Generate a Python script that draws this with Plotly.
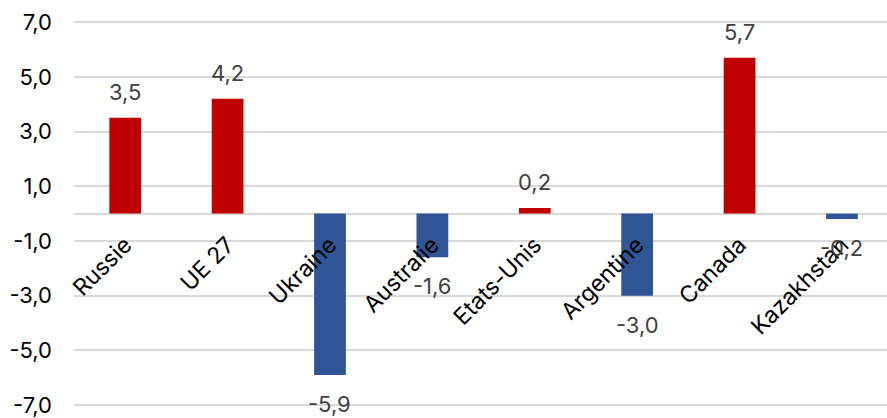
import plotly.graph_objects as go

# Variation by producer (values in the chart's unit)
countries = ["Russie", "UE 27", "Ukraine", "Australie", "Etats-Unis",
             "Argentine", "Canada", "Kazakhstan"]
values = [3.5, 4.2, -5.9, -1.6, 0.2, -3.0, 5.7, -0.2]
y_ticks = [-7, -5, -3, -1, 1, 3, 5, 7]

RED = "#C00000"
BLUE = "#2F5597"
FONT = "Inter"


def fr(v):
    return f"{v:.1f}".replace(".", ",")


colors = [RED if v >= 0 else BLUE for v in values]

fig = go.Figure(go.Bar(
    x=countries,
    y=values,
    marker=dict(color=colors, line=dict(width=0)),
    hoverinfo="x+y",
))

# value labels above positive bars, below negative ones
for c, v in zip(countries, values):
    fig.add_annotation(
        x=c, y=v, text=fr(v), showarrow=False,
        xanchor="center", yanchor="middle",
        yshift=26 if v >= 0 else -29,
        font=dict(family=FONT, size=22, color="#404040"),
    )

fig.update_layout(
    width=887, height=418,
    margin=dict(l=74, r=0, t=21, b=9),
    paper_bgcolor="white", plot_bgcolor="white",
    bargap=0.69,
    showlegend=False,
    font=dict(family=FONT, size=22, color="#262626"),
    xaxis=dict(
        type="category",
        range=[-0.5, 7.44],
        anchor="free", position=0.5,
        showgrid=False, showline=False, zeroline=False,
        tickangle=-45,
        ticks="", ticklabelstandoff=12,
        tickfont=dict(family=FONT, size=23, color="#000000"),
    ),
    yaxis=dict(
        range=[-7.07, 7.04],
        tickvals=y_ticks,
        ticktext=[fr(t) for t in y_ticks],
        ticklabeloverflow="allow",
        showgrid=True, gridcolor="#D9D9D9", gridwidth=1.5,
        zeroline=True, zerolinecolor="#D9D9D9", zerolinewidth=1.5,
        showline=False, ticks="",
        ticklabelstandoff=21,
        tickfont=dict(family=FONT, size=22, color="#000000"),
    ),
)

fig.write_html("out.html")
